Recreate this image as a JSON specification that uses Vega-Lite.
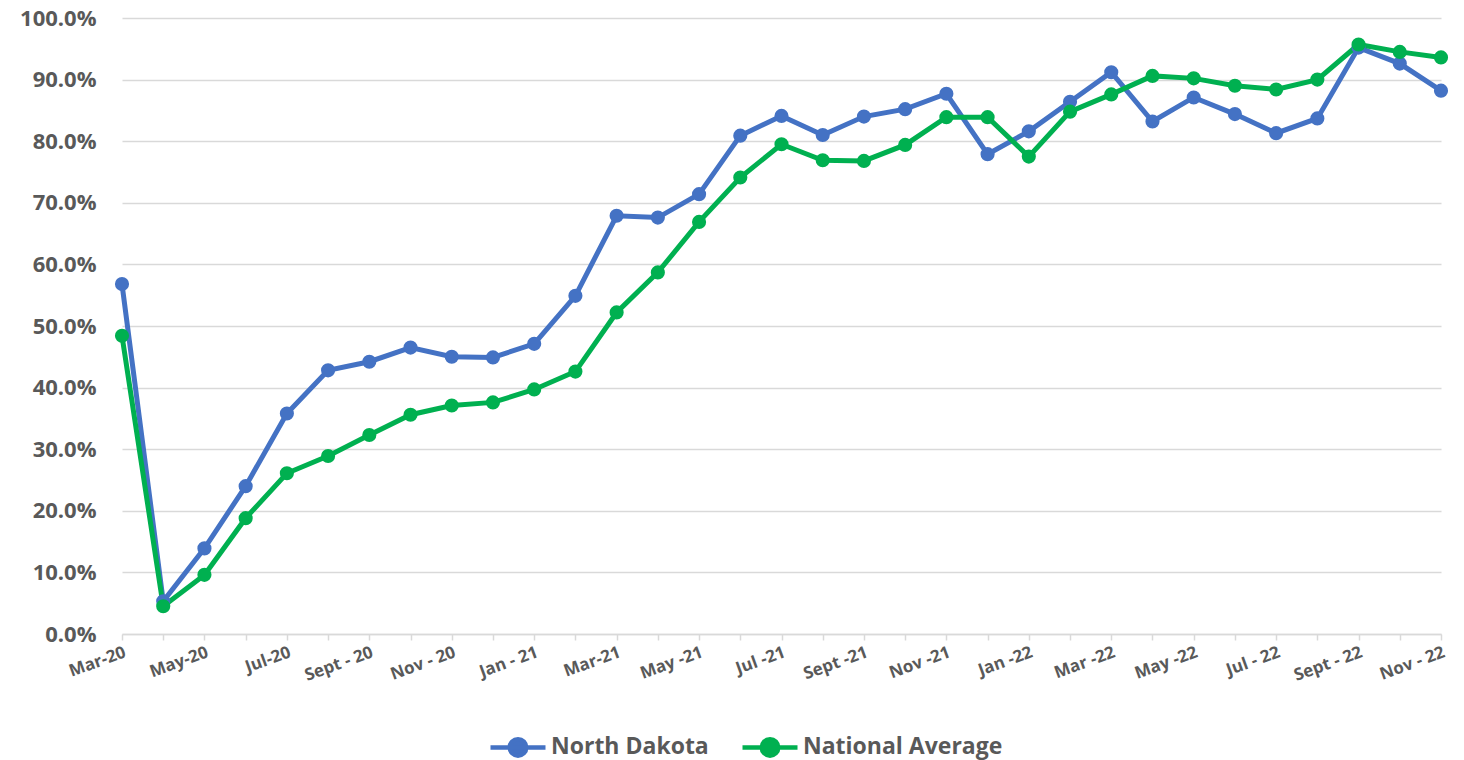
{
  "$schema": "https://vega.github.io/schema/vega-lite/v6.json",
  "width": 1319,
  "height": 616,
  "autosize": {"type": "none"},
  "padding": {"left": 122, "top": 18, "right": 23, "bottom": 126},
  "background": "white",
  "config": {
    "view": {"stroke": null},
    "font": "Open Sans",
    "axis": {"labelFont": "Open Sans", "labelColor": "#595959", "labelFontWeight": "bold"},
    "legend": {"labelFont": "Open Sans"}
  },
  "data": {
    "values": [
      {"month": "Mar-20", "series": "North Dakota", "value": 0.568},
      {"month": "Apr-20", "series": "North Dakota", "value": 0.053},
      {"month": "May-20", "series": "North Dakota", "value": 0.139},
      {"month": "Jun-20", "series": "North Dakota", "value": 0.240},
      {"month": "Jul-20", "series": "North Dakota", "value": 0.358},
      {"month": "Aug-20", "series": "North Dakota", "value": 0.428},
      {"month": "Sept - 20", "series": "North Dakota", "value": 0.442},
      {"month": "Oct-20", "series": "North Dakota", "value": 0.465},
      {"month": "Nov - 20", "series": "North Dakota", "value": 0.450},
      {"month": "Dec-20", "series": "North Dakota", "value": 0.449},
      {"month": "Jan - 21", "series": "North Dakota", "value": 0.471},
      {"month": "Feb-21", "series": "North Dakota", "value": 0.549},
      {"month": "Mar-21", "series": "North Dakota", "value": 0.679},
      {"month": "Apr-21", "series": "North Dakota", "value": 0.676},
      {"month": "May -21", "series": "North Dakota", "value": 0.714},
      {"month": "Jun-21", "series": "North Dakota", "value": 0.809},
      {"month": "Jul -21", "series": "North Dakota", "value": 0.841},
      {"month": "Aug-21", "series": "North Dakota", "value": 0.810},
      {"month": "Sept -21", "series": "North Dakota", "value": 0.840},
      {"month": "Oct-21", "series": "North Dakota", "value": 0.852},
      {"month": "Nov -21", "series": "North Dakota", "value": 0.877},
      {"month": "Dec-21", "series": "North Dakota", "value": 0.779},
      {"month": "Jan -22", "series": "North Dakota", "value": 0.816},
      {"month": "Feb-22", "series": "North Dakota", "value": 0.864},
      {"month": "Mar -22", "series": "North Dakota", "value": 0.912},
      {"month": "Apr-22", "series": "North Dakota", "value": 0.832},
      {"month": "May -22", "series": "North Dakota", "value": 0.871},
      {"month": "Jun-22", "series": "North Dakota", "value": 0.844},
      {"month": "Jul - 22", "series": "North Dakota", "value": 0.813},
      {"month": "Aug-22", "series": "North Dakota", "value": 0.837},
      {"month": "Sept - 22", "series": "North Dakota", "value": 0.952},
      {"month": "Oct-22", "series": "North Dakota", "value": 0.926},
      {"month": "Nov - 22", "series": "North Dakota", "value": 0.882},
      {"month": "Mar-20", "series": "National Average", "value": 0.484},
      {"month": "Apr-20", "series": "National Average", "value": 0.045},
      {"month": "May-20", "series": "National Average", "value": 0.096},
      {"month": "Jun-20", "series": "National Average", "value": 0.188},
      {"month": "Jul-20", "series": "National Average", "value": 0.261},
      {"month": "Aug-20", "series": "National Average", "value": 0.289},
      {"month": "Sept - 20", "series": "National Average", "value": 0.323},
      {"month": "Oct-20", "series": "National Average", "value": 0.356},
      {"month": "Nov - 20", "series": "National Average", "value": 0.371},
      {"month": "Dec-20", "series": "National Average", "value": 0.376},
      {"month": "Jan - 21", "series": "National Average", "value": 0.397},
      {"month": "Feb-21", "series": "National Average", "value": 0.426},
      {"month": "Mar-21", "series": "National Average", "value": 0.522},
      {"month": "Apr-21", "series": "National Average", "value": 0.587},
      {"month": "May -21", "series": "National Average", "value": 0.669},
      {"month": "Jun-21", "series": "National Average", "value": 0.741},
      {"month": "Jul -21", "series": "National Average", "value": 0.795},
      {"month": "Aug-21", "series": "National Average", "value": 0.769},
      {"month": "Sept -21", "series": "National Average", "value": 0.768},
      {"month": "Oct-21", "series": "National Average", "value": 0.794},
      {"month": "Nov -21", "series": "National Average", "value": 0.839},
      {"month": "Dec-21", "series": "National Average", "value": 0.839},
      {"month": "Jan -22", "series": "National Average", "value": 0.775},
      {"month": "Feb-22", "series": "National Average", "value": 0.848},
      {"month": "Mar -22", "series": "National Average", "value": 0.876},
      {"month": "Apr-22", "series": "National Average", "value": 0.906},
      {"month": "May -22", "series": "National Average", "value": 0.902},
      {"month": "Jun-22", "series": "National Average", "value": 0.890},
      {"month": "Jul - 22", "series": "National Average", "value": 0.884},
      {"month": "Aug-22", "series": "National Average", "value": 0.900},
      {"month": "Sept - 22", "series": "National Average", "value": 0.957},
      {"month": "Oct-22", "series": "National Average", "value": 0.945},
      {"month": "Nov - 22", "series": "National Average", "value": 0.936}
    ]
  },
  "encoding": {
    "x": {
      "field": "month",
      "type": "ordinal",
      "sort": null,
      "scale": {"type": "point", "padding": 0},
      "axis": {
        "title": null,
        "labelAngle": -20,
        "labelAlign": "right",
        "labelBaseline": "top",
        "labelFontSize": 17,
        "labelPadding": 4,
        "labelOverlap": false,
        "domainColor": "#D9D9D9",
        "domainWidth": 1.5,
        "tickColor": "#D9D9D9",
        "tickWidth": 1.5,
        "tickSize": 6,
        "grid": false,
        "labelExpr": "indexof(['Apr-20','Jun-20','Aug-20','Oct-20','Dec-20','Feb-21','Apr-21','Jun-21','Aug-21','Oct-21','Dec-21','Feb-22','Apr-22','Jun-22','Aug-22','Oct-22'], datum.value) >= 0 ? '' : datum.value"
      }
    },
    "y": {
      "field": "value",
      "type": "quantitative",
      "scale": {"domain": [0, 1], "nice": false},
      "axis": {
        "title": null,
        "format": ".1%",
        "values": [0, 0.1, 0.2, 0.3, 0.4, 0.5, 0.6, 0.7, 0.8, 0.9, 1.0],
        "labelOverlap": false,
        "labelFontSize": 22,
        "labelPadding": 26,
        "domain": false,
        "ticks": false,
        "gridColor": "#D9D9D9",
        "gridWidth": 1.5
      }
    },
    "color": {
      "field": "series",
      "type": "nominal",
      "sort": ["North Dakota", "National Average"],
      "scale": {"domain": ["North Dakota", "National Average"], "range": ["#4472C4", "#00B050"]},
      "legend": {
        "title": null,
        "orient": "none",
        "legendX": 366,
        "legendY": 699,
        "direction": "horizontal",
        "labelFontSize": 23,
        "labelFontWeight": "bold",
        "labelColor": "#595959",
        "labelLimit": 400,
        "symbolType": "M-1,0H1M-0.3,0A0.3,0.3,0,1,1,0.3,0A0.3,0.3,0,1,1,-0.3,0Z",
        "symbolSize": 3025,
        "symbolStrokeWidth": 4,
        "columnPadding": 24,
        "labelOffset": 3,
        "encode": {
          "symbols": {
            "update": {
              "fill": {"scale": "color", "field": "value"},
              "stroke": {"scale": "color", "field": "value"},
              "strokeWidth": {"value": 4.5}
            }
          }
        }
      }
    }
  },
  "layer": [
    {"mark": {"type": "line", "strokeWidth": 5}},
    {"mark": {"type": "point", "filled": true, "size": 200, "opacity": 1}}
  ]
}
